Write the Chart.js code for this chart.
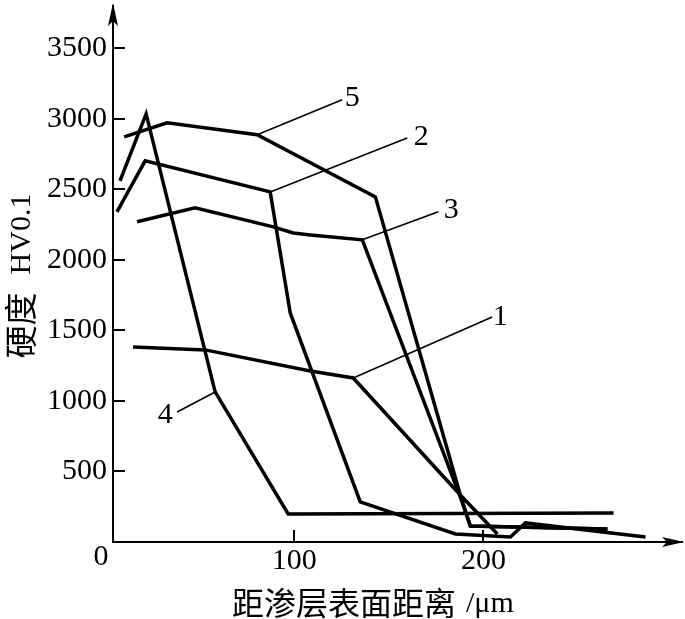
<!DOCTYPE html>
<html>
<head>
<meta charset="utf-8">
<script src="https://cdn.jsdelivr.net/npm/chart.js@4"></script>
<style>
  body { margin: 0; background: #fff; }
  #wrap { width: 685px; height: 619px; }
</style>
</head>
<body>
<div id="wrap"><canvas id="chartHv" width="685" height="619"></canvas></div>
<script>
// depth from surface (um) and hardness HV0.1
const curve1X = [14.8, 52.9, 108.5, 131.2, 187.8, 207.4];
const curve1Y = [1383, 1362, 1213, 1163, 333, 57];

const curve2X = [6.3, 21.2, 87.3, 97.9, 134.9, 185.2, 214.3, 222.2, 285.7];
const curve2Y = [2340, 2702, 2482, 1624, 284, 57, 35, 135, 35];

const curve3X = [16.9, 47.6, 88.9, 99.5, 108.5, 136.0, 187.8, 193.1, 265.6];
const curve3Y = [2270, 2369, 2234, 2191, 2177, 2142, 319, 113, 92];

const curve4X = [7.9, 21.7, 58.2, 96.8, 268.8];
const curve4Y = [2560, 3035, 1064, 199, 206];

const curve5X = [10.1, 32.8, 80.4, 142.9, 187.8, 193.1, 265.6];
const curve5Y = [2872, 2972, 2887, 2447, 333, 113, 92];

const curveNames = ["1", "2", "3", "4", "5"];
const yTicks = [500, 1000, 1500, 2000, 2500, 3000, 3500];
const xTicks = [100, 200];

const serif = "'Liberation Serif', 'Times New Roman', 'Noto Sans CJK SC', serif";
const cjk = "'Noto Sans CJK SC', 'Liberation Serif', serif";

function pts(xs, ys) {
  return xs.map((x, i) => ({ x: x, y: ys[i] }));
}

// where each number sits: point index on its curve + pixel offset of leader end
const leaders = [
  { ds: 0, idx: 3, dx: 139, dy: -61, tx: 8, ty: 0 },
  { ds: 1, idx: 2, dx: 137, dy: -54, tx: 14, ty: -1 },
  { ds: 2, idx: 5, dx: 76, dy: -28, tx: 13, ty: -2 },
  { ds: 3, idx: 2, dx: -38, dy: 20, tx: -12, ty: 3 },
  { ds: 4, idx: 2, dx: 85, dy: -35, tx: 10, ty: -2 }
];

const extras = {
  id: "extras",
  afterDraw(chart) {
    const ctx = chart.ctx;
    const xs = chart.scales.x, ys = chart.scales.y;
    const a = chart.chartArea;
    ctx.save();
    ctx.fillStyle = "#000";
    ctx.strokeStyle = "#000";

    // inward tick marks
    ctx.lineWidth = 2;
    ctx.beginPath();
    yTicks.forEach(v => {
      const py = Math.round(ys.getPixelForValue(v));
      ctx.moveTo(a.left, py); ctx.lineTo(a.left + 12, py);
    });
    xTicks.forEach(v => {
      const px = Math.round(xs.getPixelForValue(v));
      ctx.moveTo(px, a.bottom); ctx.lineTo(px, a.bottom - 12);
    });
    ctx.stroke();

    // arrow heads
    ctx.beginPath();
    ctx.moveTo(a.left, a.top - 3);
    ctx.lineTo(a.left - 5, a.top + 20);
    ctx.lineTo(a.left, a.top + 15);
    ctx.lineTo(a.left + 5, a.top + 20);
    ctx.closePath();
    ctx.fill();
    ctx.beginPath();
    ctx.moveTo(a.right + 2, a.bottom);
    ctx.lineTo(a.right - 20, a.bottom - 5);
    ctx.lineTo(a.right - 15, a.bottom);
    ctx.lineTo(a.right - 20, a.bottom + 5);
    ctx.closePath();
    ctx.fill();

    // leaders and curve numbers
    ctx.lineWidth = 1.6;
    ctx.font = "30px " + serif;
    ctx.textAlign = "center";
    ctx.textBaseline = "middle";
    leaders.forEach(l => {
      const p = chart.getDatasetMeta(l.ds).data[l.idx];
      const ex = p.x + l.dx, ey = p.y + l.dy;
      ctx.beginPath();
      ctx.moveTo(p.x, p.y); ctx.lineTo(ex, ey);
      ctx.stroke();
      ctx.fillText(curveNames[l.ds], ex + l.tx, ey + l.ty);
    });

    // origin label
    ctx.fillText("0", 101, 557);

    // axis titles
    ctx.textAlign = "left";
    let x0 = 232;
    ctx.font = "32px " + cjk;
    ctx.fillText("距渗层表面距离", x0, 603);
    x0 += ctx.measureText("距渗层表面距离").width + 10;
    ctx.font = "30px " + serif;
    ctx.fillText("/μm", x0, 604);

    ctx.translate(20, 276);
    ctx.rotate(-Math.PI / 2);
    ctx.font = "33px " + cjk;
    const w1 = ctx.measureText("硬度").width;
    ctx.font = "30px " + serif;
    const w2 = ctx.measureText("HV0.1").width;
    const gap = 18;
    let sx = -(w1 + gap + w2) / 2;
    ctx.font = "33px " + cjk;
    ctx.fillText("硬度", sx, 0);
    ctx.font = "30px " + serif;
    ctx.fillText("HV0.1", sx + w1 + gap, 2);
    ctx.restore();
  }
};

const ctx = document.getElementById("chartHv").getContext("2d");
const datasets = [curve1X, curve2X, curve3X, curve4X, curve5X].map((xs, i) => ({
  label: curveNames[i],
  data: pts(xs, [curve1Y, curve2Y, curve3Y, curve4Y, curve5Y][i]),
  borderColor: "#000",
  borderWidth: 3.5,
  pointRadius: 0,
  tension: 0,
  fill: false,
  clip: false
}));

new Chart(ctx, {
  type: "line",
  data: { datasets },
  options: {
    responsive: false,
    devicePixelRatio: 1,
    animation: false,
    layout: { padding: { top: 6, right: 3, left: 0, bottom: 0 } },
    plugins: {
      legend: { display: false },
      tooltip: { enabled: false }
    },
    scales: {
      x: {
        type: "linear",
        min: 4.2,
        max: 305,
        afterBuildTicks: axis => { axis.ticks = xTicks.map(v => ({ value: v })); },
        afterFit: scale => {
          scale.height = 77;
          scale.paddingLeft = 0; scale.paddingRight = 0;
        },
        grid: { display: false, drawTicks: false },
        border: { display: true, color: "#000", width: 2 },
        ticks: {
          color: "#000", padding: 1, maxRotation: 0,
          font: { family: serif, size: 30 },
          callback: v => String(v)
        }
      },
      y: {
        min: 0,
        max: 3800,
        afterBuildTicks: axis => { axis.ticks = yTicks.map(v => ({ value: v })); },
        afterFit: scale => {
          scale.width = 113;
          scale.paddingTop = 0; scale.paddingBottom = 0;
        },
        grid: { display: false, drawTicks: false },
        border: { display: true, color: "#000", width: 2 },
        ticks: {
          color: "#000", padding: 6,
          font: { family: serif, size: 30 },
          callback: v => String(v)
        }
      }
    }
  },
  plugins: [extras]
});
</script>
</body>
</html>
